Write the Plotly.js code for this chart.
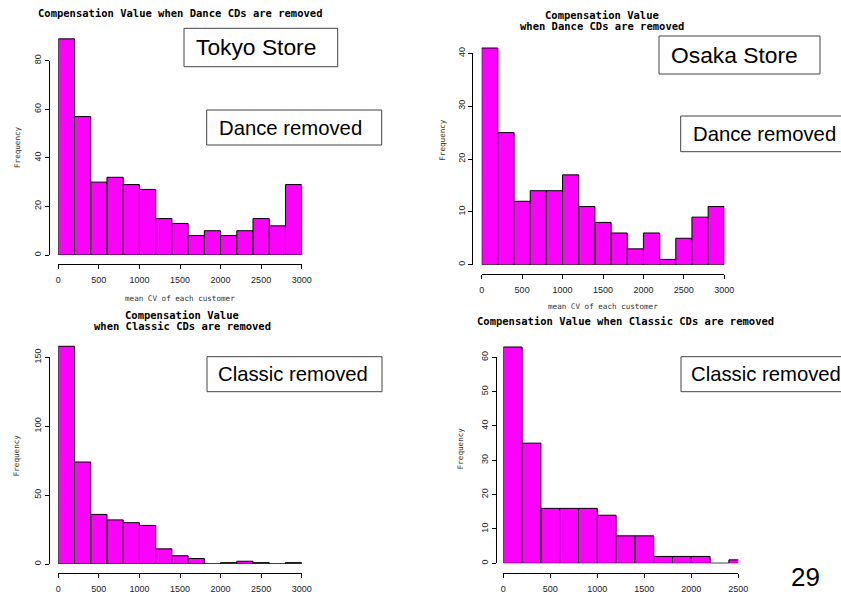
<!DOCTYPE html>
<html><head><meta charset="utf-8">
<script src="https://cdn.plot.ly/plotly-3.0.1.min.js"></script>
<style>html,body{margin:0;padding:0;background:#fff}#chart{width:841px;height:595px}</style>
</head><body><div id="chart"></div>
<script>
// ---- data ----
const binCenters3000 = [100,300,500,700,900,1100,1300,1500,1700,1900,2100,2300,2500,2700,2900];
const binCenters2600 = [100,300,500,700,900,1100,1300,1500,1700,1900,2100,2300,2500];
const tokyoDance   = [89,57,30,32,29,27,15,13,8,10,8,10,15,12,29];
const osakaDance   = [41,25,12,14,14,17,11,8,6,3,6,1,5,9,11];
const tokyoClassic = [158,74,36,32,30,28,11,6,4,0,1,2,1,0,1];
const osakaClassic = [63,35,16,16,16,14,8,8,2,2,2,0,1];
const titleDanceOne = "Compensation Value when Dance CDs are removed";
const titleLine1 = "Compensation Value";
const titleDance2 = "when Dance CDs are removed";
const titleClassic2 = "when Classic CDs are removed";
const titleClassicOne = "Compensation Value when Classic CDs are removed";
const xLabel = "mean CV of each customer";
const yLabel = "Frequency";

// ---- layout geometry (pixels) ----
const W = 841, H = 595;
const px = x => x / W, py = y => 1 - y / H;
const panels = [
  {x: binCenters3000, y: tokyoDance,   xmax: 3000, x0: 58.3,  x1: 301.7, y0: 255,   yt: 60.7,  ytop: 80,  dty: 20, xline: 264,   yline: 49},
  {x: binCenters3000, y: osakaDance,   xmax: 3000, x0: 481.7, x1: 724.3, y0: 264.7, yt: 53.3,  ytop: 40,  dty: 10, xline: 274,   yline: 472.3},
  {x: binCenters3000, y: tokyoClassic, xmax: 3000, x0: 58.3,  x1: 301.7, y0: 564,   yt: 357.3, ytop: 150, dty: 50, xline: 573.3, yline: 49},
  {x: binCenters2600, y: osakaClassic, xmax: 2500, x0: 503.3, x1: 738.3, y0: 563.3, yt: 357.3, ytop: 60,  dty: 10, xline: 573.3, yline: 496}
];

const tickFont = {family: "Liberation Sans Narrow, Liberation Sans, Arial, sans-serif", size: 9, color: "#222"};
const data = [];
const layout = {
  width: W, height: H, margin: {l: 0, r: 0, t: 0, b: 0},
  paper_bgcolor: "#fff", plot_bgcolor: "rgba(0,0,0,0)",
  showlegend: false, bargap: 0, annotations: [], shapes: []
};

panels.forEach((p, i) => {
  const xi = 1 + i, yd = 1 + 2 * i, yv = 2 + 2 * i;
  const scale = (p.y0 - p.yt) / p.ytop;
  const R = p.ytop * 1.25;
  const xk = "xaxis" + xi, ydk = "yaxis" + yd, yvk = "yaxis" + yv;
  layout[xk] = {
    domain: [px(p.x0), px(p.x1)], range: [0, p.xmax], anchor: "free", position: py(p.xline),
    showline: true, linecolor: "#000", linewidth: 1, ticks: "outside", ticklen: 4, tickcolor: "#000",
    dtick: 500, tick0: 0, showgrid: false, zeroline: false, tickfont: tickFont, fixedrange: true,
    ticklabelstandoff: 3
  };
  layout[ydk] = {
    domain: [py(p.y0), py(p.y0 - scale * R)], range: [0, R], anchor: "x" + xi,
    visible: false, showgrid: false, zeroline: false, fixedrange: true
  };
  layout[yvk] = {
    domain: [py(p.y0), py(p.yt)], range: [0, p.ytop], anchor: "free", position: px(p.yline),
    showline: true, linecolor: "#000", linewidth: 1, ticks: "outside", ticklen: 4, tickcolor: "#000",
    dtick: p.dty, tick0: 0, tickangle: -90, showgrid: false, zeroline: false, tickfont: tickFont, fixedrange: true
  };
  data.push({
    type: "bar", x: p.x, y: p.y, width: 200, xaxis: "x" + xi, yaxis: "y" + yd,
    marker: {color: "#FF00FF", line: {color: "#000", width: 1}}, hoverinfo: "skip"
  });
  data.push({
    type: "bar", x: p.x, y: p.y, width: 200, xaxis: "x" + xi, yaxis: "y" + yv,
    marker: {color: "rgba(0,0,0,0)", line: {width: 0}}, hoverinfo: "skip"
  });
});

function txt(text, x, y, font, opts) {
  layout.annotations.push(Object.assign({
    text: text, x: px(x), y: py(y), xref: "paper", yref: "paper",
    showarrow: false, xanchor: "center", yanchor: "middle", font: font
  }, opts || {}));
}
const titleFont = {family: "DejaVu Sans Mono", size: 10.5, color: "#000"};
const labFont = {family: "DejaVu Sans Mono", size: 7.6, color: "#333"};
const storeFont = {family: "Liberation Sans, Arial, sans-serif", size: 22.8, color: "#000"};
const remFont = {family: "Liberation Sans, Arial, sans-serif", size: 20.3, color: "#000"};

// titles
txt("<b>" + titleDanceOne + "</b>", 180, 13, titleFont);
txt("<b>" + titleLine1 + "</b>", 601.7, 15, titleFont);
txt("<b>" + titleDance2 + "</b>", 601.7, 26.5, titleFont);
txt("<b>" + titleLine1 + "</b>", 182, 315, titleFont);
txt("<b>" + titleClassic2 + "</b>", 182, 326, titleFont);
txt("<b>" + titleClassicOne + "</b>", 625, 320.7, titleFont);
// axis labels
txt(xLabel, 180, 298.3, labFont);
txt(xLabel, 602.7, 306.7, labFont);
txt(yLabel, 17, 147, labFont, {textangle: -90});
txt(yLabel, 441.7, 140, labFont, {textangle: -90});
txt(yLabel, 17.3, 455, labFont, {textangle: -90});
txt(yLabel, 460, 448.3, labFont, {textangle: -90});

// boxed labels
function box(text, l, t, r, b, tx, font) {
  layout.shapes.push({type: "rect", xref: "paper", yref: "paper", x0: px(l), x1: px(r), y0: py(b), y1: py(t),
    line: {color: "#444", width: 1}, fillcolor: "rgba(255,255,255,0)"});
  txt(text, tx, (t + b) / 2, font, {xanchor: "left"});
}
box("Tokyo Store", 184, 28.3, 337.7, 66.7, 194, storeFont);
box("Dance removed", 206.7, 110, 381.7, 145, 216.5, remFont);
box("Osaka Store", 659, 36, 820, 74, 669, storeFont);
box("Dance removed", 680.7, 116, 845, 151.7, 691, remFont);
box("Classic removed", 207, 356.7, 382, 391.7, 216, remFont);
box("Classic removed", 681, 356.7, 845, 391.7, 688.5, remFont);
txt("29", 805, 577, {family: "Liberation Sans, Arial, sans-serif", size: 26, color: "#000"});

Plotly.newPlot("chart", data, layout, {staticPlot: true, displayModeBar: false});
</script></body></html>
